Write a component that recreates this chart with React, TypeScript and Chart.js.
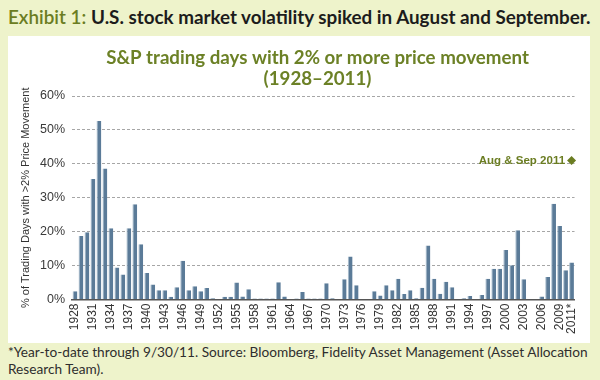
import React, { useEffect, useLayoutEffect, useRef } from "react";
import { Chart, registerables } from "chart.js";

Chart.register(...registerables);

const years: string[] = [
  "1928", "1929", "1930", "1931", "1932", "1933", "1934", "1935", "1936", "1937",
  "1938", "1939", "1940", "1941", "1942", "1943", "1944", "1945", "1946", "1947",
  "1948", "1949", "1950", "1951", "1952", "1953", "1954", "1955", "1956", "1957",
  "1958", "1959", "1960", "1961", "1962", "1963", "1964", "1965", "1966", "1967",
  "1968", "1969", "1970", "1971", "1972", "1973", "1974", "1975", "1976", "1977",
  "1978", "1979", "1980", "1981", "1982", "1983", "1984", "1985", "1986", "1987",
  "1988", "1989", "1990", "1991", "1992", "1993", "1994", "1995", "1996", "1997",
  "1998", "1999", "2000", "2001", "2002", "2003", "2004", "2005", "2006", "2007",
  "2008", "2009", "2010", "2011*",
];

const pctDays: number[] = [
  2.4, 18.7, 19.8, 35.5, 52.6, 38.6, 21.0, 9.4, 7.4, 21.0,
  28.1, 16.3, 7.8, 4.4, 2.7, 2.7, 0.8, 3.6, 11.4, 2.7,
  3.9, 2.4, 3.4, 0.4, 0, 0.8, 0.8, 5.0, 0.9, 3.0,
  0.3, 0.3, 0.3, 0.3, 5.1, 0.9, 0, 0.3, 2.2, 0.3,
  0.3, 0.3, 4.8, 0.4, 0, 6.0, 12.7, 4.2, 0, 0,
  2.4, 1.2, 4.2, 2.7, 6.1, 1.6, 2.7, 0.4, 3.5, 15.9,
  6.1, 1.7, 5.2, 3.6, 0, 0.4, 1.0, 0, 1.3, 6.1,
  9.1, 9.1, 14.6, 10.1, 20.4, 6.0, 0, 0, 0.9, 6.6,
  28.2, 21.7, 8.6, 10.9,
];

const shownTickLabels: string[] = [
  "1928", "1931", "1934", "1937", "1940", "1943", "1946", "1949", "1952", "1955",
  "1958", "1961", "1964", "1967", "1970", "1973", "1976", "1979", "1982", "1985",
  "1988", "1991", "1994", "1997", "2000", "2003", "2006", "2009", "2011*",
];

const yTickValues: number[] = [0, 10, 20, 30, 40, 50, 60];

const annotationYear = "2011*";
const annotationValue = 41;
const annotationLabel = "Aug & Sep 2011";

const headerLead = "Exhibit 1:";
const headerText = "U.S. stock market volatility spiked in August and September.";
const chartTitle = ["S&P trading days with 2% or more price movement", "(1928–2011)"];
const yAxisTitle = "% of Trading Days with >2% Price Movement";
const footnoteLines = [
  "*Year-to-date through 9/30/11. Source: Bloomberg, Fidelity Asset Management (Asset Allocation",
  "Research Team).",
];

const OLIVE = "#6b7d22";
const TITLE_OLIVE = "#6c8126";
const BAR = "#5b7b98";

function fitWidth(el: HTMLElement | null, target: number) {
  if (!el) return;
  const w = el.getBoundingClientRect().width;
  const fs = parseFloat(getComputedStyle(el).fontSize);
  if (w > 0) el.style.fontSize = (fs * target) / w + "px";
}

export default function App() {
  const canvasRef = useRef<HTMLCanvasElement | null>(null);
  const headRef = useRef<HTMLSpanElement | null>(null);
  const footRef = useRef<HTMLSpanElement | null>(null);

  useLayoutEffect(() => {
    fitWidth(headRef.current, 583);
    fitWidth(footRef.current, 580);
  }, []);

  useEffect(() => {
    const canvas = canvasRef.current;
    if (!canvas) return;
    const annIndex = years.indexOf(annotationYear);
    const annData = years.map((_, i) => (i === annIndex ? annotationValue : null));

    const labelPlugin = {
      id: "annLabel",
      afterDatasetsDraw(chart: any) {
        const meta = chart.getDatasetMeta(1);
        const pt = meta.data[annIndex];
        if (!pt) return;
        const ctx = chart.ctx;
        ctx.save();
        ctx.font = "bold 11.5px 'Liberation Sans', Arial, sans-serif";
        ctx.fillStyle = OLIVE;
        ctx.textAlign = "right";
        ctx.textBaseline = "middle";
        ctx.fillText(annotationLabel, pt.x - 6.5, pt.y);
        ctx.restore();
      },
    };

    const titlePlugin = {
      id: "twoLineTitle",
      afterDraw(chart: any) {
        const ctx = chart.ctx;
        ctx.save();
        const fam = "Lato, 'Open Sans', sans-serif";
        ctx.font = `bold 17px ${fam}`;
        const w = ctx.measureText(chartTitle[0]).width;
        const size = (17 * 423) / (w || 423);
        ctx.font = `bold ${size}px ${fam}`;
        ctx.fillStyle = TITLE_OLIVE;
        ctx.textAlign = "center";
        ctx.textBaseline = "middle";
        ctx.fillText(chartTitle[0], 309.5, 22);
        ctx.fillText(chartTitle[1], 309.5, 42.5);
        ctx.restore();
      },
    };

    const chart = new Chart(canvas, {
      type: "bar",
      data: {
        labels: years,
        datasets: [
          {
            type: "bar",
            data: pctDays,
            backgroundColor: BAR,
            borderColor: "#a7bccd",
            borderWidth: { left: 1, top: 0, right: 0, bottom: 0 },
            borderSkipped: false,
            barPercentage: 0.8,
            categoryPercentage: 1,
            order: 2,
          } as any,
          {
            type: "line",
            data: annData,
            showLine: false,
            pointStyle: "rectRot",
            pointRadius: 4.5,
            pointBackgroundColor: OLIVE,
            pointBorderWidth: 0,
            order: 1,
          } as any,
        ],
      },
      options: {
        animation: false,
        responsive: false,
        maintainAspectRatio: false,
        layout: { padding: { left: 0, right: 10, top: 60, bottom: 0 } },
        plugins: {
          legend: { display: false },
          tooltip: { enabled: false },
          title: { display: false },
        },
        scales: {
          x: {
            grid: { display: false, drawTicks: false },
            border: { display: true, color: "#555", width: 1.6 },
            ticks: {
              autoSkip: false,
              maxRotation: 90,
              minRotation: 90,
              padding: 4,
              color: "#333",
              font: { family: "'Liberation Sans', Arial, sans-serif", size: 12 },
              callback: (_v: any, i: number) => (shownTickLabels.includes(years[i]) ? years[i] : ""),
            },
            afterFit: (s: any) => {
              s.height = 43.5;
            },
          },
          y: {
            min: yTickValues[0],
            max: yTickValues[yTickValues.length - 1],
            ticks: {
              stepSize: 10,
              padding: 7,
              color: "#3a3a3a",
              font: { family: "'Liberation Sans', Arial, sans-serif", size: 12.5 },
              callback: (v: any) => v + "%",
            },
            grid: { color: "#a6a6a6", lineWidth: 1, drawTicks: false },
            border: { display: false, dash: [3, 2] },
            title: {
              display: true,
              text: yAxisTitle,
              color: "#333",
              font: { family: "'Liberation Sans', Arial, sans-serif", size: 11 },
              padding: { top: 11.5, bottom: 0 },
            },
            afterFit: (s: any) => {
              s.width = 64;
            },
          },
        },
      },
      plugins: [labelPlugin, titlePlugin],
    } as any);
    return () => chart.destroy();
  }, []);

  return (
    <div
      style={{
        position: "absolute",
        left: 0,
        top: 0,
        width: 600,
        height: 380,
        background: "#eef3cb",
        overflow: "hidden",
        fontFamily: "Lato, 'Open Sans', sans-serif",
      }}
    >
      <div style={{ position: "absolute", left: 8, top: 4, lineHeight: "26px", whiteSpace: "nowrap" }}>
        <span ref={headRef} style={{ fontSize: 17, display: "inline-block" }}>
          <span style={{ color: OLIVE, fontWeight: 600 }}>{headerLead}</span>{" "}
          <span style={{ color: "#1c1c1c", fontWeight: 700 }}>{headerText}</span>
        </span>
      </div>
      <canvas
        ref={canvasRef}
        width={582}
        height={307}
        style={{ position: "absolute", left: 8, top: 36, width: 582, height: 307, background: "#fff" }}
      />
      <div
        style={{
          position: "absolute",
          left: 8,
          top: 344,
          lineHeight: "17px",
          color: "#2e2e2e",
          whiteSpace: "nowrap",
        }}
      >
        <span ref={footRef} style={{ fontSize: 13, display: "inline-block" }}>
          {footnoteLines[0]}
          <br />
          {footnoteLines[1]}
        </span>
      </div>
    </div>
  );
}
